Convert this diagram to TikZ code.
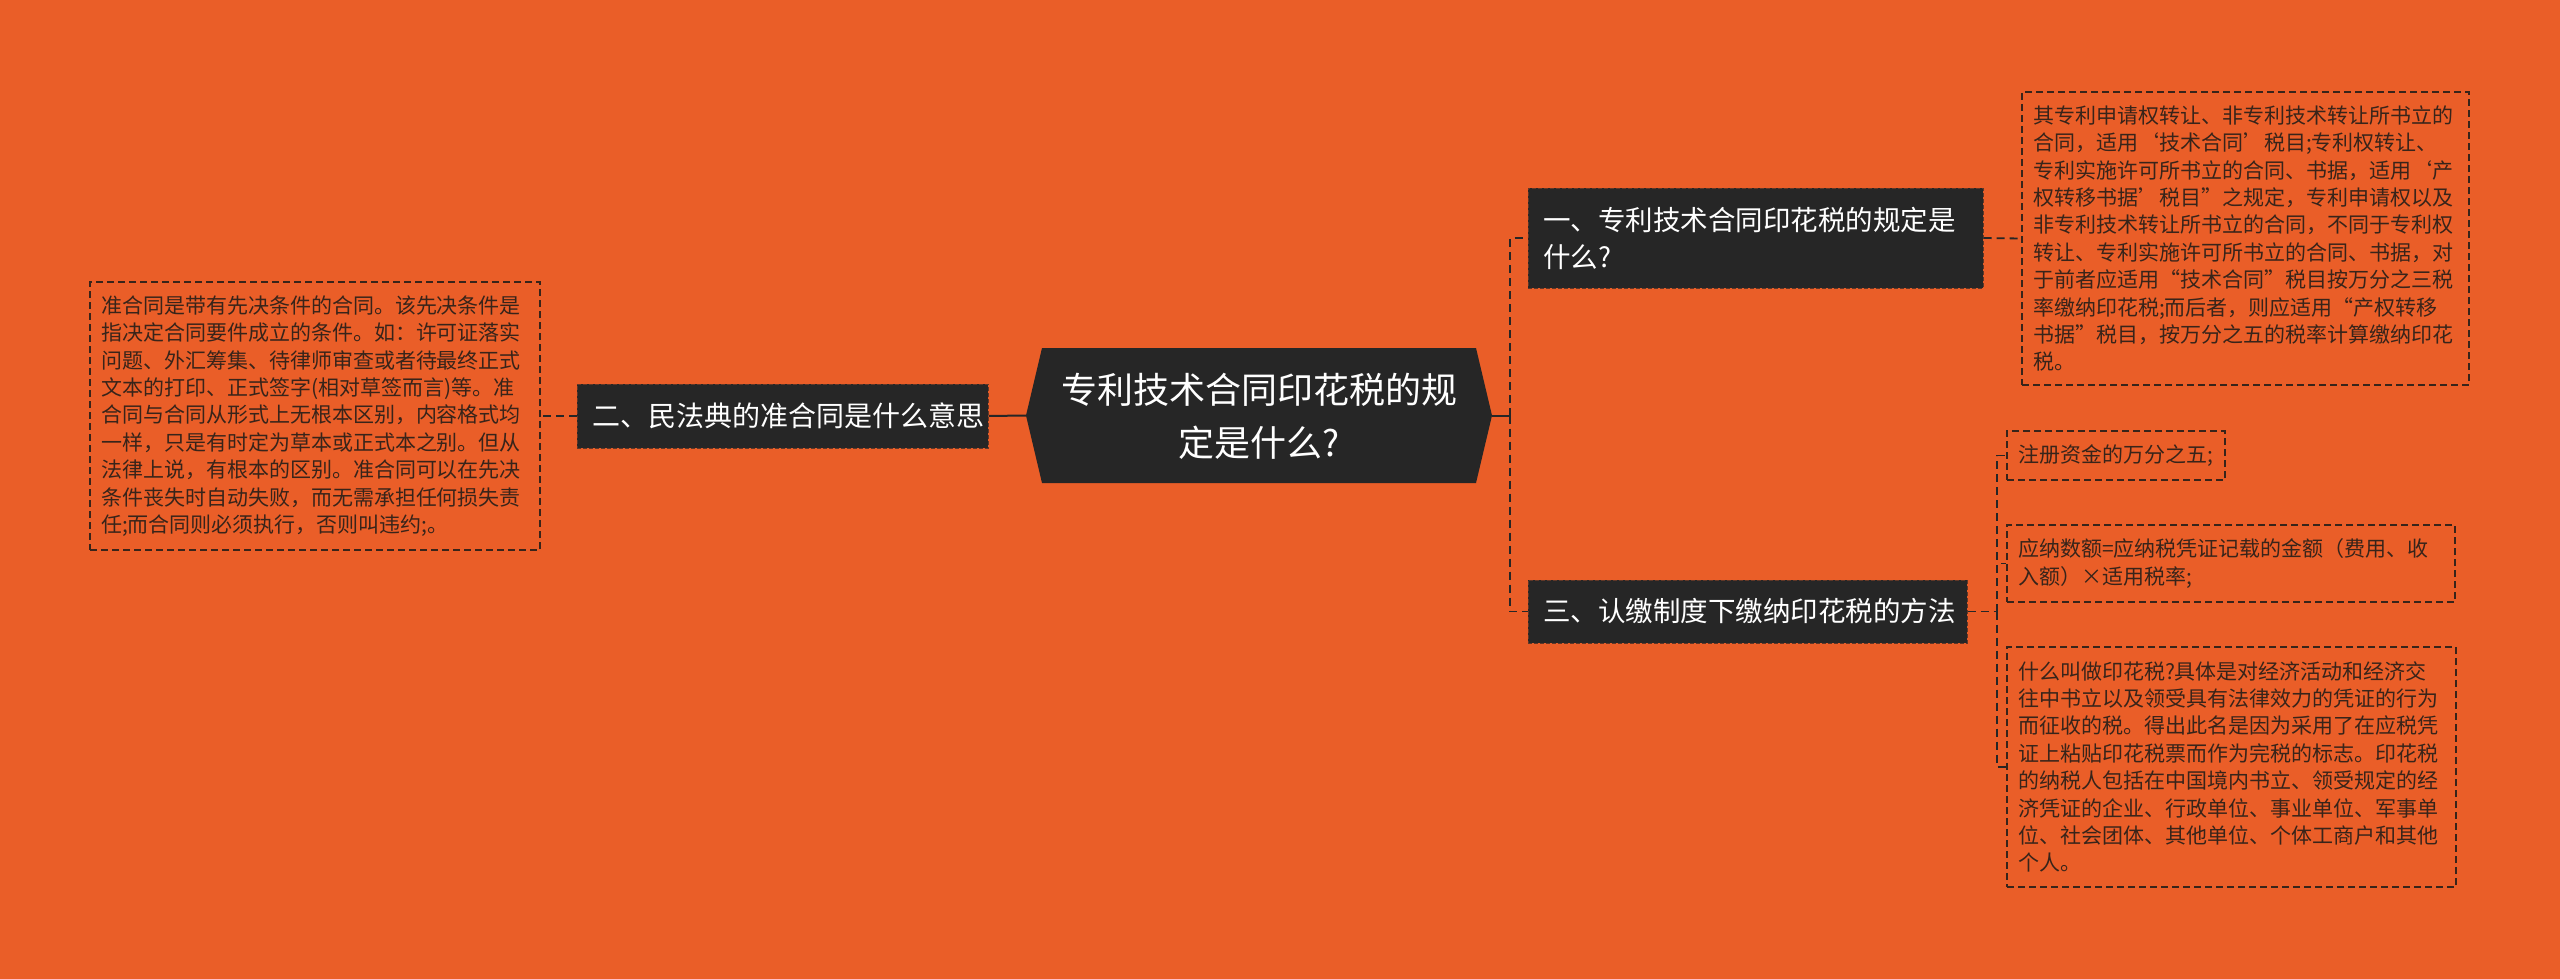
\documentclass[tikz,border=0pt]{standalone}
\usepackage{fontspec}
\setmainfont{Noto Sans CJK SC}
\definecolor{bg}{RGB}{234,94,40}
\definecolor{dk}{RGB}{38,38,38}
\definecolor{ink}{RGB}{56,36,26}
\begin{document}
\begin{tikzpicture}[x=1pt,y=-1pt,
  leaf/.style={draw=ink, dash pattern=on 7pt off 4pt, line width=1.3pt, align=left,
    font=\fontsize{21}{27.4}\selectfont, text=ink, inner xsep=11pt, inner ysep=0pt, anchor=center},
  branch/.style={fill=dk, draw=dk!70!bg, dash pattern=on 4pt off 2pt, line width=1pt, text=white,
    align=left, inner xsep=15pt, inner ysep=0pt, anchor=center},
  solidline/.style={draw=dk, line width=2pt},
  dashline/.style={draw=dk, line width=1.8pt, dash pattern=on 8pt off 5pt}
]
\useasboundingbox (0,0) rectangle (2560,979);
\fill[bg] (0,0) rectangle (2560,979);

% central hexagon
\coordinate (cl) at (1026,415.5);
\coordinate (cr) at (1492,415.5);
\fill[dk] (cl) -- (1042,348) -- (1476,348) -- (cr) -- (1476,483) -- (1042,483) -- cycle;
\node[text=white, align=center, font=\fontsize{36}{53}\selectfont] (c) at (1259,416.5)
  {专利技术合同印花税的规\\定是什么?};

% branches
\node[branch, text width=381pt, minimum height=64pt, font=\fontsize{28}{37}\selectfont] (b2) at (782.5,416)
  {二、民法典的准合同是什么意思};
\node[branch, text width=425pt, minimum height=100pt, font=\fontsize{27.5}{37}\selectfont] (b1) at (1755.5,238)
  {一、专利技术合同印花税的规定是\\什么?};
\node[branch, text width=409pt, minimum height=63pt, font=\fontsize{27.5}{37}\selectfont] (b3) at (1747.5,611.5)
  {三、认缴制度下缴纳印花税的方法};

% leaves
\node[leaf, text width=428pt, minimum height=268pt] (t2) at (315,416)
  {准合同是带有先决条件的合同。该先决条件是\\
   指决定合同要件成立的条件。如：许可证落实\\
   问题、外汇筹集、待律师审查或者待最终正式\\
   文本的打印、正式签字(相对草签而言)等。准\\
   合同与合同从形式上无根本区别，内容格式均\\
   一样，只是有时定为草本或正式本之别。但从\\
   法律上说，有根本的区别。准合同可以在先决\\
   条件丧失时自动失败，而无需承担任何损失责\\
   任;而合同则必须执行，否则叫违约;。};
\node[leaf, text width=425pt, minimum height=293pt] (t1) at (2245.5,238.5)
  {其专利申请权转让、非专利技术转让所书立的\\
   合同，适用‘技术合同’税目;专利权转让、\\
   专利实施许可所书立的合同、书据，适用‘产\\
   权转移书据’税目”之规定，专利申请权以及\\
   非专利技术转让所书立的合同，不同于专利权\\
   转让、专利实施许可所书立的合同、书据，对\\
   于前者应适用“技术合同”税目按万分之三税\\
   率缴纳印花税;而后者，则应适用“产权转移\\
   书据”税目，按万分之五的税率计算缴纳印花\\
   税。};
\node[leaf, text width=196pt, minimum height=49pt] (l1) at (2116,455.5)
  {注册资金的万分之五;};
\node[leaf, text width=426pt, minimum height=77pt] (l2) at (2231,563.5)
  {应纳数额=应纳税凭证记载的金额（费用、收\\入额）×适用税率;};
\node[leaf, text width=427pt, minimum height=240pt] (l3) at (2231.5,767)
  {什么叫做印花税?具体是对经济活动和经济交\\
   往中书立以及领受具有法律效力的凭证的行为\\
   而征收的税。得出此名是因为采用了在应税凭\\
   证上粘贴印花税票而作为完税的标志。印花税\\
   的纳税人包括在中国境内书立、领受规定的经\\
   济凭证的企业、行政单位、事业单位、军事单\\
   位、社会团体、其他单位、个体工商户和其他\\
   个人。};

% connectors
\draw[solidline] (cl) -- (b2.east);
\draw[dashline] (b2.west) -- (t2.east);
\coordinate (jr) at (1510,415.5);
\draw[solidline] (cr) -- (jr);
\draw[dashline] (jr) |- (b1.west);
\draw[dashline] (jr) |- (b3.west);
\draw[dashline] (b1.east) -- (t1.west);
\coordinate (jb) at (1997,611.5);
\draw[dashline] (b3.east) -- (jb);
\draw[dashline] (jb) |- (l1.west);
\draw[dashline] (jb) |- (l2.west);
\draw[dashline] (jb) |- (l3.west);
\end{tikzpicture}
\end{document}
